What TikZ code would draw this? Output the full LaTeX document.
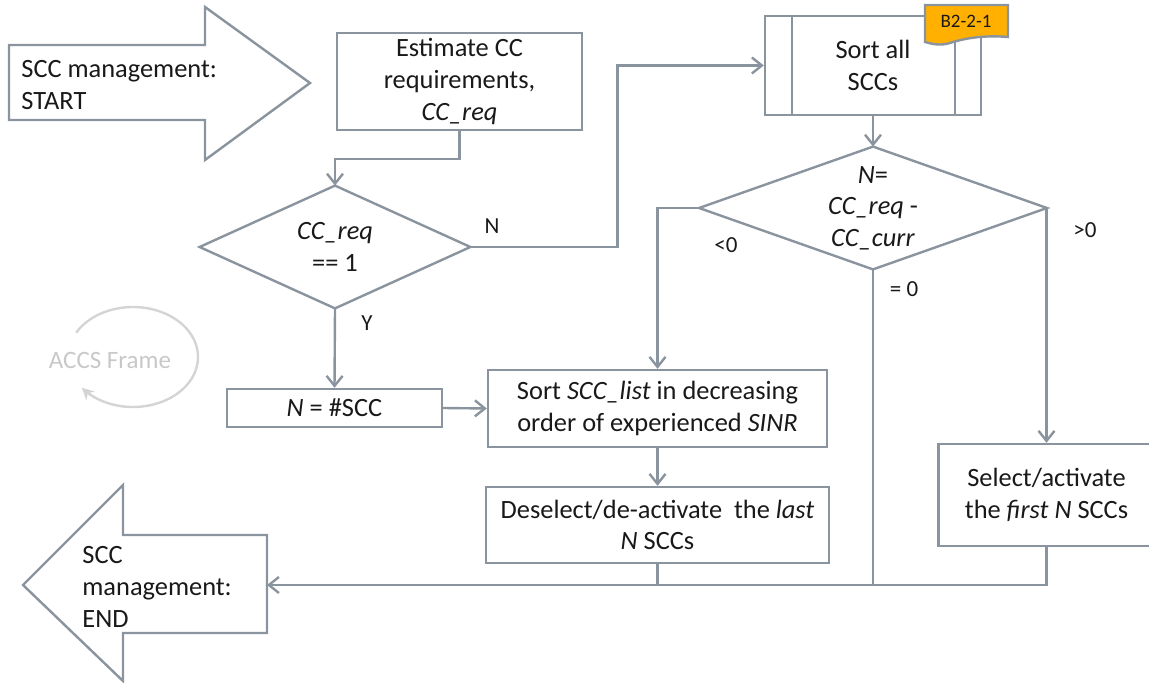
\documentclass[tikz,border=0pt]{standalone}
\usepackage{fontspec}
\setmainfont{Carlito}
\usetikzlibrary{arrows.meta}
\definecolor{linegray}{RGB}{138,148,158}
\definecolor{textblack}{RGB}{25,25,25}
\definecolor{tagorange}{RGB}{255,176,0}
\definecolor{framegray}{RGB}{212,212,212}
\definecolor{frametext}{RGB}{200,200,200}
\newcommand\flowfont{\fontsize{13.2}{15.8}\selectfont}
\newcommand\lblfont{\fontsize{11.5}{13}\selectfont}

\begin{document}
\begin{tikzpicture}[x=0.5pt,y=-0.5pt,
  line/.style={draw=linegray, line width=1.2pt},
  flow/.style={line, -{Straight Barb[length=5pt,width=8pt]}},
  proc/.style={line, fill=white, align=center, inner sep=0pt,
    font=\flowfont, text=textblack},
  guard/.style={inner sep=0pt, align=center, font=\flowfont, text=textblack},
  lbl/.style={font=\lblfont, text=textblack},
  blocktxt/.style={anchor=west, align=left, inner sep=0pt, font=\flowfont, text=textblack},
]
\useasboundingbox (0,0) rectangle (1149,683);
\clip (0,0) rectangle (1149,683);

% start and end block arrows
\draw[line, fill=white] (9,45) -- (205,45) -- (205,7) -- (310,83) -- (205,160)
  -- (205,120) -- (9,120) -- cycle;
\node[blocktxt] (start) at (21,85) {SCC management:\\START};

\draw[line, fill=white] (267,535) -- (123,535) -- (123,485) -- (23,585)
  -- (123,681) -- (123,633) -- (267,633) -- cycle;
\node[blocktxt] (endtxt) at (82,587) {SCC\\management:\\END};
\coordinate (endin) at (267,585);

% process boxes
\node[proc, minimum width=122.5pt, minimum height=48.5pt] (est) at (459.5,81.5)
  {Estimate CC\\requirements,\\\textit{CC\_req}};
\node[proc, minimum width=108pt, minimum height=49.5pt] (sort) at (873,65.5)
  {Sort all\\SCCs};
\draw[line] ([xshift=14pt]sort.north west) -- ([xshift=14pt]sort.south west);
\draw[line] ([xshift=-13.5pt]sort.north east) -- ([xshift=-13.5pt]sort.south east);

\node[proc, minimum width=107.5pt, minimum height=19pt] (nscc) at (334.5,408)
  {\textit{N} = \#SCC};
\node[proc, minimum width=169.5pt, minimum height=38.5pt] (sortlist) at (657.5,408.5)
  {Sort \textit{SCC\_list} in decreasing\\order of experienced \textit{SINR}};
\node[proc, minimum width=171.5pt, minimum height=38pt] (desel) at (657.5,525)
  {Deselect/de-activate\ \ the \textit{last}\\\textit{N} SCCs};
\node[proc, minimum width=108pt, minimum height=51pt] (sel) at (1046.5,495)
  {Select/activate\\the \textit{first N} SCCs};

% reference tag on the sub-process
\draw[line, fill=tagorange] (925,5) -- (1008,5) -- (1008,37)
  .. controls (985,35) and (965,38) .. (950,43)
  .. controls (940,46) and (932,44) .. (925,42) -- cycle;
\node[font=\fontsize{9.5}{10}\selectfont, text=textblack] (tag) at (966,21) {B2-2-1};

% decisions
\node[guard, minimum width=135pt, minimum height=61pt] (d1) at (335,247)
  {\textit{CC\_req}\\== 1};
\draw[line] (d1.north) -- (d1.east) -- (d1.south) -- (d1.west) -- cycle;
\node[guard, minimum width=173.5pt, minimum height=61pt] (d2) at (873,208)
  {\textit{N}=\\\textit{CC\_req} -\\\textit{CC\_curr}};
\draw[line] (d2.north) -- (d2.east) -- (d2.south) -- (d2.west) -- cycle;

% connectors
\draw[flow] (est.south) -- ++(0,28) -| (d1.north);
\draw[flow] (d1.east) -- ++(147,0) |- (sort.west);
\draw[flow] (d1.south) -- (nscc.north);
\draw[flow] (nscc.east) -- (sortlist.west);
\draw[flow] (sort.south) -- (d2.north);
\draw[flow] (d2.west) -| (sortlist.north);
\draw[flow] (d2.east) -| (sel.north);
\draw[flow] (sortlist.south) -- (desel.north);
\draw[flow] (sel.south) |- (endin);
\draw[line] (d2.south) -- (d2.south |- endin);
\draw[line] (desel.south) -- (desel.south |- endin);

% branch labels
\node[lbl] (lN) at (492,226) {N};
\node[lbl] (lY) at (367,323) {Y};
\node[lbl] (lneg) at (726,245) {<0};
\node[lbl] (lzero) at (904,289) {= 0};
\node[lbl] (lpos) at (1085,230) {>0};

% frame loop
\draw[framegray, line width=1.2pt, -{Stealth[length=6pt,width=6pt]}]
  plot[domain=209:502, samples=90] ({133+65*cos(\x)},{357+50*sin(\x)});
\node[font=\fontsize{12.5}{14}\selectfont, text=frametext] (accs) at (110,360) {ACCS Frame};
\end{tikzpicture}
\end{document}
